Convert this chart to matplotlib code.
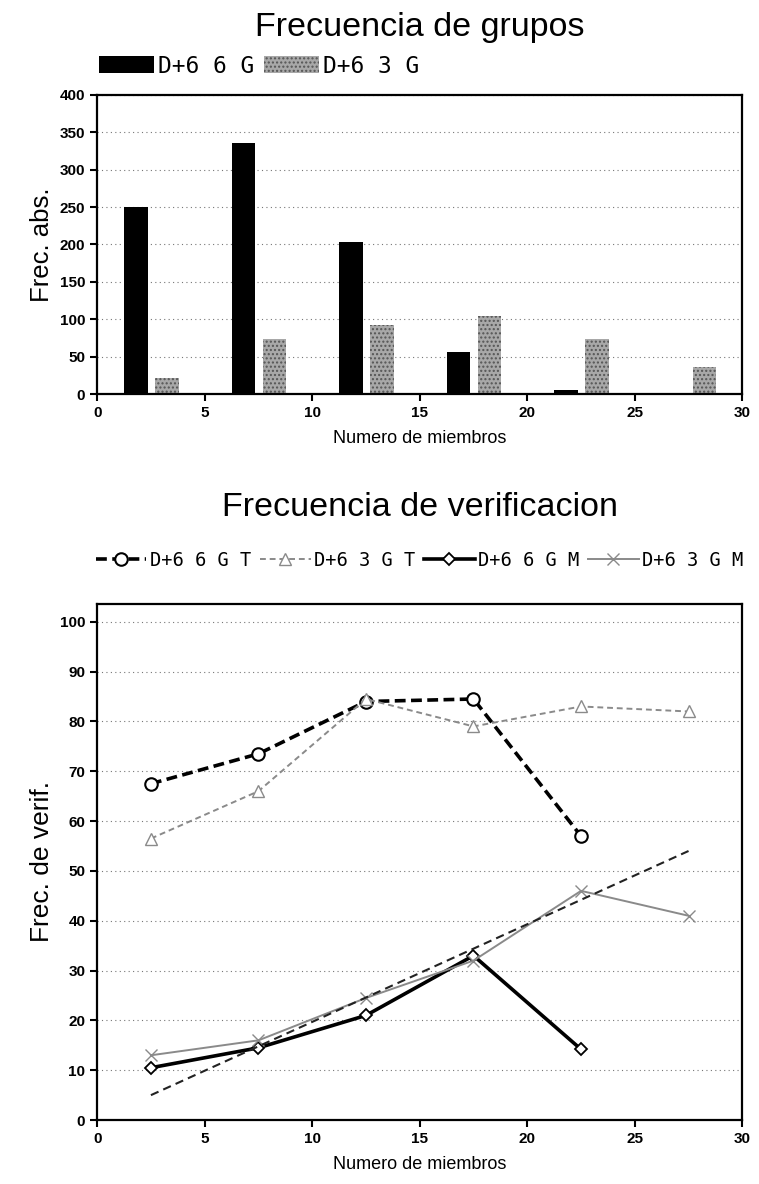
"""
Frecuencia de grupos / Frecuencia de verificacion
Two stacked panels: grouped bars on top, verification lines below
"""

import matplotlib
matplotlib.use("Agg")
import matplotlib.pyplot as plt

plt.rcParams["font.family"] = ["Liberation Sans", "DejaVu Sans"]

# --- data ---
grupos = [2.5, 7.5, 12.5, 17.5, 22.5, 27.5]
frec_66g = [250, 335, 203, 56, 6, 0]
frec_63g = [22, 74, 92, 104, 74, 37]

x_verif = [2.5, 7.5, 12.5, 17.5, 22.5, 27.5]
t_66g = [67.5, 73.5, 84, 84.5, 57]
t_63g = [56.5, 66, 84.5, 79, 83, 82]
m_66g = [10.5, 14.5, 21, 33, 14.2]
m_63g = [13, 16, 24.5, 32, 46, 41]
trend_x = [2.5, 27.5]
trend_y = [5, 54]

fig = plt.figure(figsize=(7.59, 11.84), dpi=100)
mono = "DejaVu Sans Mono"


def style_axes(ax, ymax, ystep):
    ax.set_xlim(0, 30)
    ax.set_xticks(range(0, 31, 5))
    ax.set_yticks(range(0, ymax + 1, ystep))
    ax.yaxis.grid(True, linestyle=(0, (1, 3)), color="#777777", linewidth=0.8)
    ax.set_axisbelow(True)
    ax.tick_params(axis="both", direction="out", length=5, width=1.5,
                   labelsize=11)
    for lbl in ax.get_xticklabels() + ax.get_yticklabels():
        lbl.set_fontweight("bold")
    for sp in ax.spines.values():
        sp.set_linewidth(1.6)
    ax.set_xlabel("Numero de miembros", fontsize=13, labelpad=7)


# Panel 1: bars
ax1 = fig.add_axes([0.128, 0.667, 0.850, 0.253])
ax1.bar([g - 0.7 for g in grupos], frec_66g, width=1.1, color="black",
        label="D+6 6 G")
ax1.bar([g + 0.75 for g in grupos], frec_63g, width=1.1, color="#a8a8a8",
        edgecolor="#555555", hatch="....", linewidth=0, label="D+6 3 G")
ax1.set_ylim(0, 400)
style_axes(ax1, 400, 50)
ax1.set_ylabel("Frec. abs.", fontsize=18.5, labelpad=4)
fig.text(0.553, 0.977, "Frecuencia de grupos", ha="center", va="center",
         fontsize=24.5)
ax1.legend(loc="center left", bbox_to_anchor=(0.130, 0.944), ncol=2,
           bbox_transform=fig.transFigure, frameon=False, handlelength=2.4,
           handleheight=0.75, handletextpad=0.2, columnspacing=0.4,
           borderaxespad=0, borderpad=0, prop={"family": mono, "size": 16.5})

# Panel 2: lines
ax2 = fig.add_axes([0.128, 0.054, 0.850, 0.436])
ax2.plot(x_verif[:len(t_66g)], t_66g, color="black", linestyle=(0, (3, 1.5)),
         linewidth=2.6, marker="o", markersize=9, markerfacecolor="white",
         markeredgewidth=1.5, label="D+6 6 G T")
ax2.plot(x_verif, t_63g, color="#8a8a8a", linestyle=(0, (3, 2)),
         linewidth=1.4, marker="^", markersize=8, markerfacecolor="white",
         markeredgewidth=1.0, label="D+6 3 G T")
ax2.plot(x_verif[:len(m_66g)], m_66g, color="black", linewidth=2.6,
         marker="D", markersize=6, markerfacecolor="white",
         markeredgewidth=1.3, label="D+6 6 G M")
ax2.plot(x_verif, m_63g, color="#8a8a8a", linewidth=1.4, marker="x",
         markersize=8, markeredgewidth=1.0, label="D+6 3 G M")
ax2.plot(trend_x, trend_y, color="#222222", linestyle=(0, (4, 2.5)),
         linewidth=1.5)
ax2.set_ylim(0, 103.6)
style_axes(ax2, 100, 10)
ax2.set_ylabel("Frec. de verif.", fontsize=19, labelpad=4)
fig.text(0.553, 0.571, "Frecuencia de verificacion", ha="center",
         va="center", fontsize=24.5)
ax2.legend(loc="center", bbox_to_anchor=(0.553, 0.527), ncol=4,
           bbox_transform=fig.transFigure, frameon=False, handlelength=2.7,
           handletextpad=0.2, columnspacing=0.45, borderpad=0,
           prop={"family": mono, "size": 13.5})

plt.savefig("out.png", dpi=100)
plt.close()
